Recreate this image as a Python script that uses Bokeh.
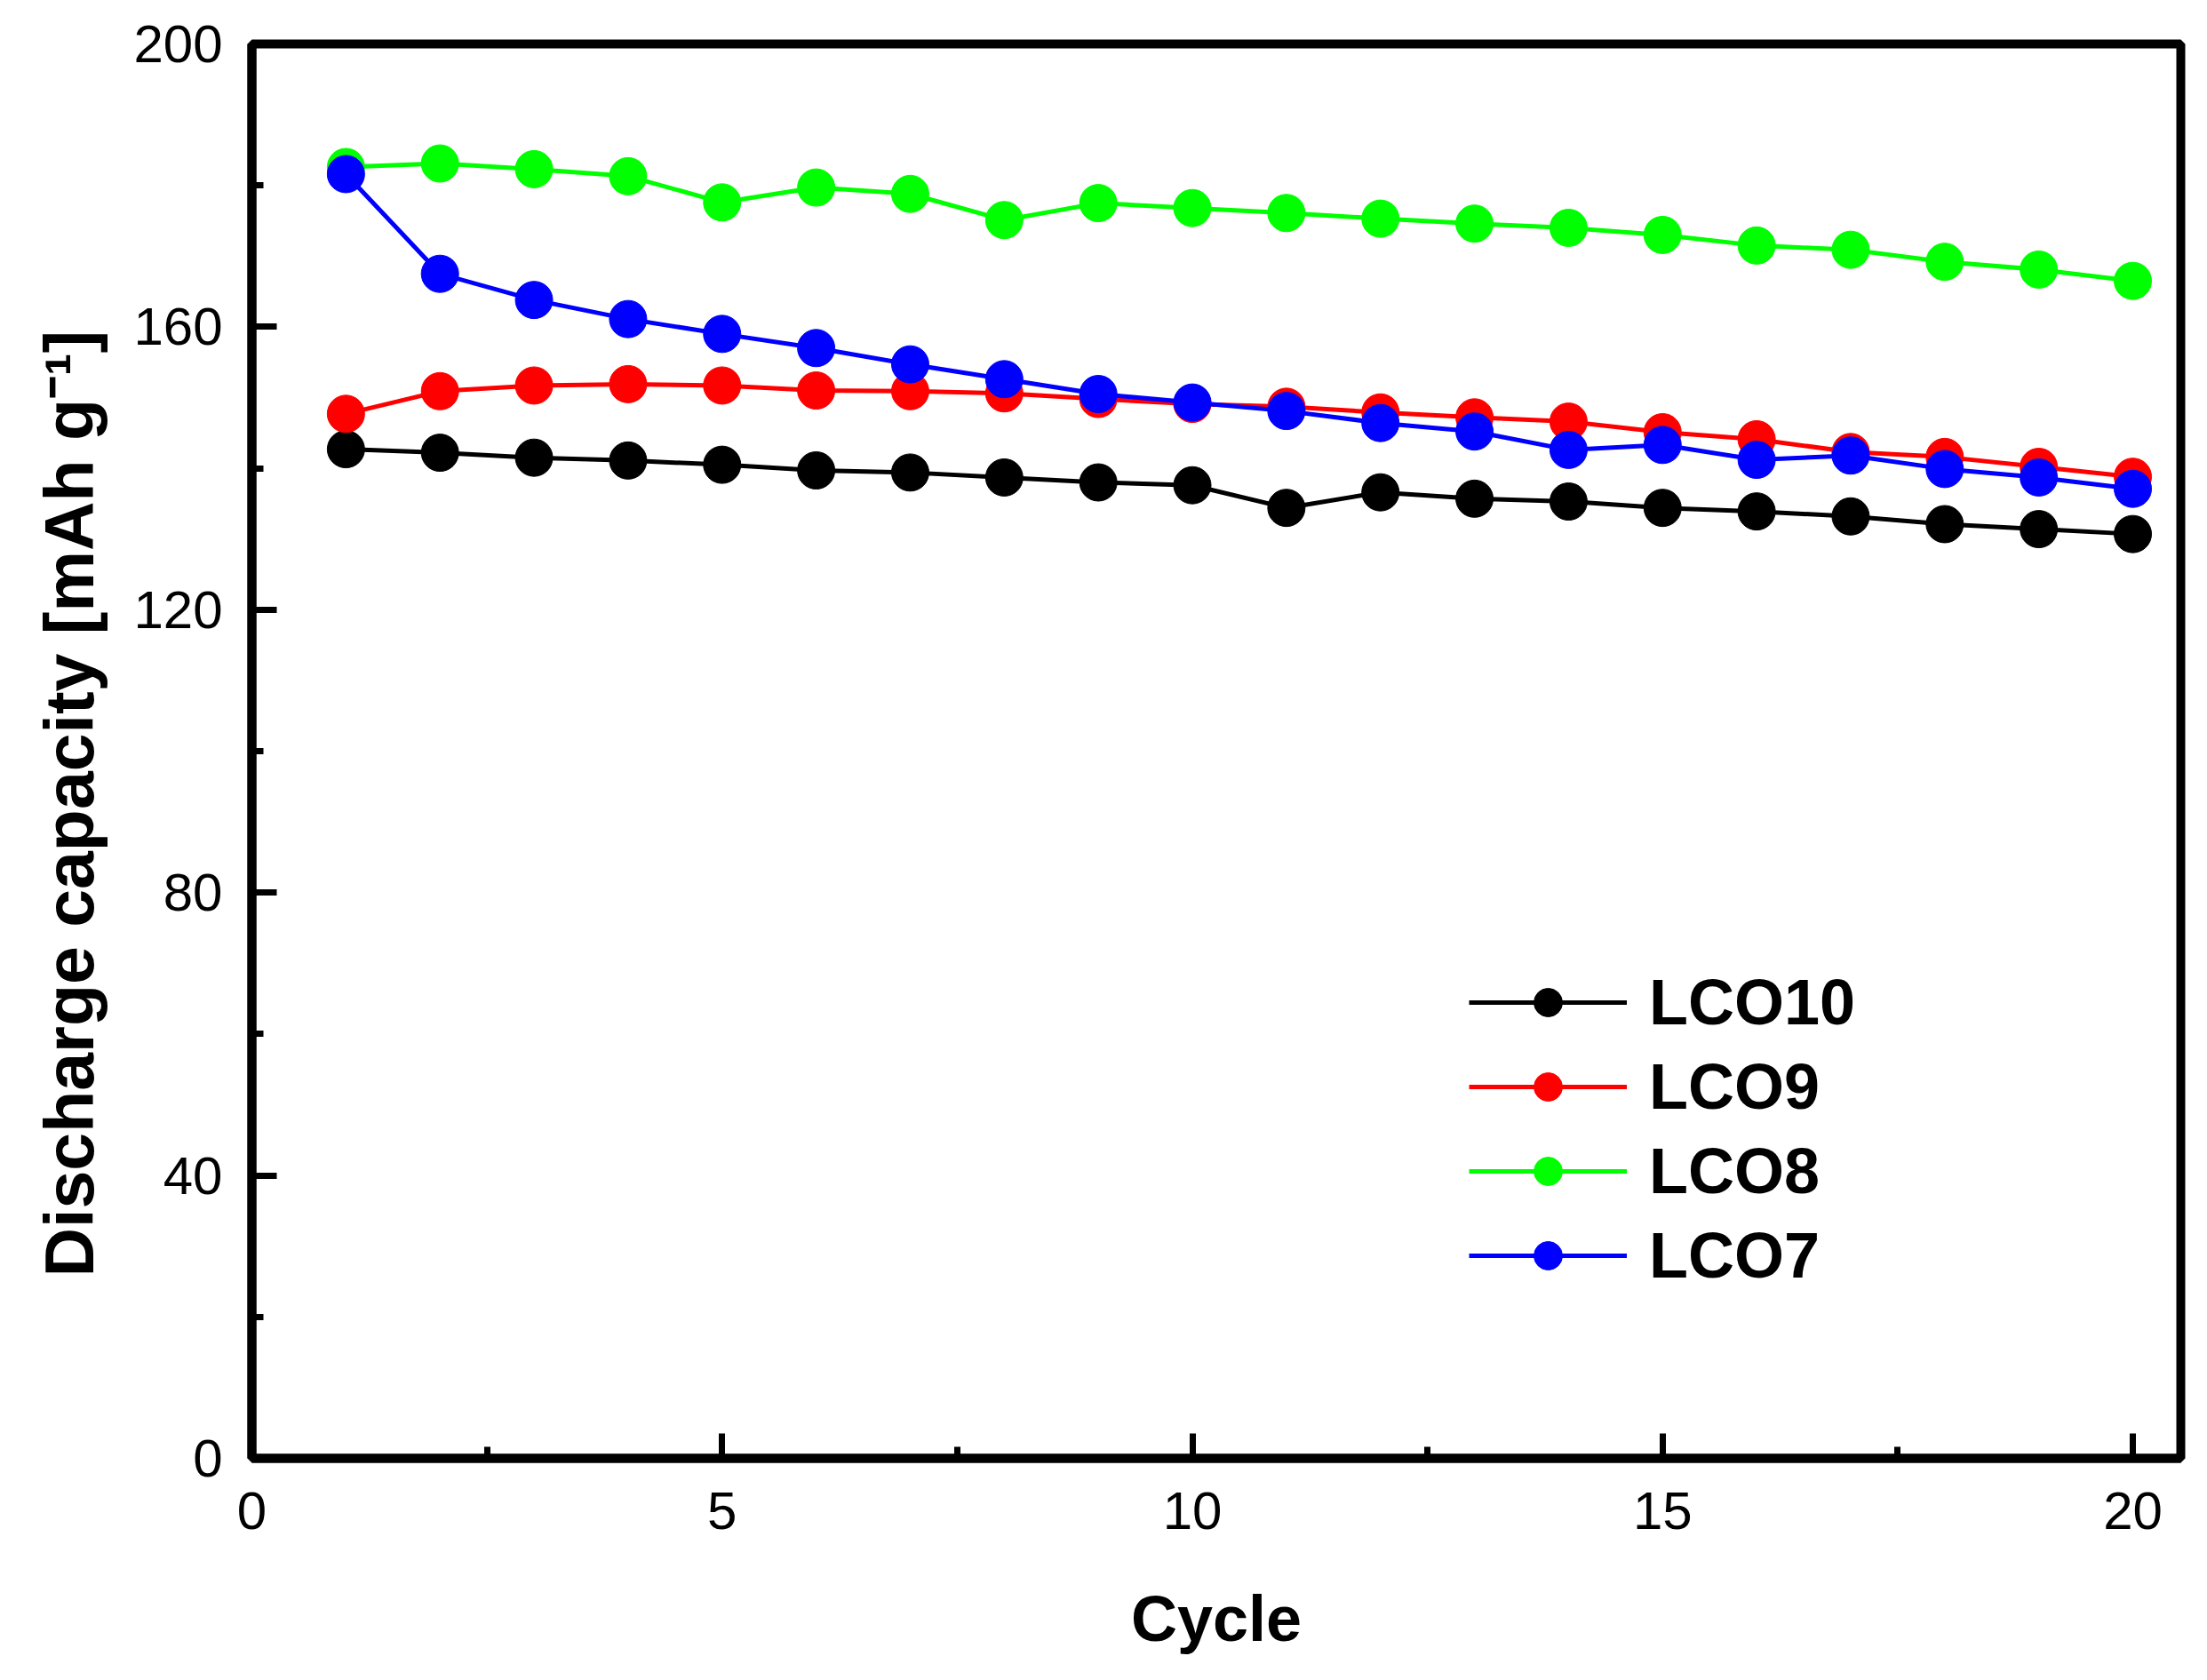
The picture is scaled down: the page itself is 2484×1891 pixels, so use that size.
from bokeh.plotting import figure
from bokeh.models import Range1d, SingleIntervalTicker, Legend, LegendItem, Title
from bokeh.embed import file_html
from bokeh.resources import INLINE

cycles = list(range(1, 21))
lco10 = [142.7, 142.2, 141.5, 141.1, 140.5, 139.7, 139.4, 138.7, 138.0, 137.6,
         134.4, 136.6, 135.7, 135.3, 134.4, 133.9, 133.2, 132.1, 131.4, 130.7]
lco9 = [147.7, 150.9, 151.7, 151.9, 151.7, 151.0, 150.9, 150.6, 149.8, 149.1,
        148.7, 147.9, 147.2, 146.6, 145.1, 144.1, 142.3, 141.6, 140.2, 138.8]
lco8 = [182.6, 183.1, 182.3, 181.3, 177.6, 179.7, 178.8, 175.1, 177.5, 176.8,
        176.1, 175.3, 174.6, 174.0, 173.0, 171.5, 170.9, 169.2, 168.1, 166.5]
lco7 = [181.6, 167.5, 163.8, 161.1, 159.0, 157.0, 154.7, 152.6, 150.5, 149.3,
        148.1, 146.4, 145.2, 142.6, 143.3, 141.2, 141.8, 139.9, 138.7, 137.1]

series_names = ["LCO10", "LCO9", "LCO8", "LCO7"]
series_values = [lco10, lco9, lco8, lco7]
series_colors = ["#000000", "#FF0000", "#00FF00", "#0000FF"]

x_label = "Cycle"
y_label = "Discharge capacity [mAh g\u207b\u00b9]"

FONT = "Liberation Sans"

p = figure(width=2468, height=1875, output_backend="svg", toolbar_location=None,
           x_range=Range1d(0, 20.51), y_range=Range1d(0, 200),
           min_border_left=283, min_border_right=14, min_border_top=49,
           min_border_bottom=234)
p.background_fill_color = "white"
p.border_fill_color = "white"
p.xgrid.visible = False
p.ygrid.visible = False
p.outline_line_color = "black"
p.outline_line_width = 10
p.outline_line_alpha = 1.0

p.xaxis.ticker = SingleIntervalTicker(interval=5, num_minor_ticks=2)
p.yaxis.ticker = SingleIntervalTicker(interval=40, num_minor_ticks=2)

for ax in (p.xaxis, p.yaxis):
    ax.axis_line_width = 10
    ax.axis_line_color = "black"
    ax.major_tick_in = 28
    ax.major_tick_out = 0
    ax.minor_tick_in = 13
    ax.minor_tick_out = 0
    ax.major_tick_line_width = 7
    ax.minor_tick_line_width = 7
    ax.major_tick_line_color = "black"
    ax.minor_tick_line_color = "black"
    ax.major_label_text_font = FONT
    ax.major_label_text_font_size = "60px"
    ax.major_label_text_color = "black"

p.xaxis.axis_label = x_label
p.xaxis.axis_label_text_font = FONT
p.xaxis.axis_label_text_font_size = "72px"
p.xaxis.axis_label_text_font_style = "bold"
p.xaxis.axis_label_text_color = "black"
p.xaxis.major_label_standoff = 38
p.yaxis.major_label_standoff = 33
p.xaxis.axis_label_standoff = 58

ytitle = Title(text=y_label, align="left", offset=204, standoff=53,
               text_font=FONT, text_font_size="77px", text_font_style="bold",
               text_color="black")
p.add_layout(ytitle, "left")

items = []
for name, vals, col in zip(series_names, series_values, series_colors):
    r_line = p.line(cycles, vals, line_color=col, line_width=5)
    r_pts = p.scatter(cycles, vals, marker="circle", size=42,
                      fill_color=col, line_color=col, line_width=1)
    items.append(LegendItem(label=name, renderers=[r_line, r_pts]))

legend = Legend(items=items, location=(1370, 187),
                glyph_width=178, glyph_height=80, label_height=80,
                label_standoff=25, spacing=13, padding=0, margin=0,
                border_line_alpha=0, background_fill_alpha=0,
                label_text_font=FONT, label_text_font_size="72px",
                label_text_font_style="bold", label_text_color="black")
p.add_layout(legend, "center")

open("out.html", "w").write(file_html(p, INLINE))
